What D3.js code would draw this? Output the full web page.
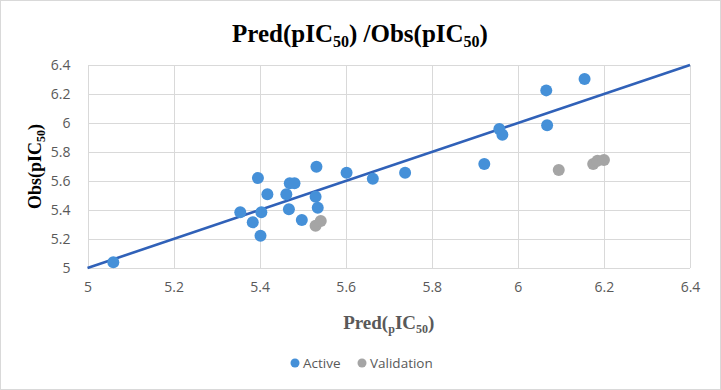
<!DOCTYPE html>
<html>
<head>
<meta charset="utf-8">
<script src="https://cdn.jsdelivr.net/npm/d3@7"></script>
<style>
  body { margin: 0; background: #fff; }
  svg { display: block; }
</style>
</head>
<body>
<svg id="chart" width="721" height="390"></svg>
<script>
// data
var activeX = [5.06, 5.355, 5.384, 5.396, 5.402, 5.404, 5.418, 5.462, 5.468, 5.470, 5.481, 5.498, 5.530, 5.532, 5.535, 5.602, 5.663, 5.738, 5.922, 5.957, 5.964, 6.066, 6.068, 6.155];
var activeY = [5.04, 5.385, 5.315, 5.62, 5.223, 5.384, 5.508, 5.508, 5.405, 5.584, 5.584, 5.331, 5.492, 5.699, 5.416, 5.657, 5.616, 5.657, 5.717, 5.959, 5.919, 6.225, 5.984, 6.303];
var validX = [5.530, 5.542, 6.095, 6.175, 6.185, 6.200];
var validY = [5.292, 5.324, 5.676, 5.717, 5.740, 5.745];
var lineX = [5, 6.4];
var lineY = [5, 6.4];
var xTicks = [5, 5.2, 5.4, 5.6, 5.8, 6, 6.2, 6.4];
var yTicks = [5, 5.2, 5.4, 5.6, 5.8, 6, 6.2, 6.4];

var W = 721, H = 390
  , margin = {top: 65, right: 31, bottom: 122, left: 87.5}
  , width = W - margin.left - margin.right
  , height = H - margin.top - margin.bottom;

var svg = d3.select('#chart');

svg.append('rect')
  .attr('x', 0.5).attr('y', 0.5)
  .attr('width', W - 1).attr('height', H - 1)
  .attr('fill', '#fff')
  .attr('stroke', '#d9d9d9');

var x = d3.scaleLinear().domain([5, 6.4]).range([0, width]);
var y = d3.scaleLinear().domain([5, 6.4]).range([height, 0]);

var g = svg.append('g').attr('transform', 'translate(' + margin.left + ',' + margin.top + ')');

var fmt = function (d) { return d3.format('~g')(+d.toFixed(1)); };

// grid via axes
g.append('g')
  .attr('class', 'y axis')
  .call(d3.axisLeft(y).tickValues(yTicks).tickSizeInner(-width).tickSizeOuter(0).tickPadding(17).tickFormat(fmt))
  .call(function (a) { a.select('.domain').remove(); });

g.append('g')
  .attr('class', 'x axis')
  .attr('transform', 'translate(0,' + height + ')')
  .call(d3.axisBottom(x).tickValues(xTicks).tickSizeInner(-height).tickSizeOuter(0).tickPadding(14).tickFormat(fmt))
  .call(function (a) { a.select('.domain').remove(); });

g.selectAll('.axis .tick line')
  .style('stroke', '#d9d9d9')
  .style('shape-rendering', 'crispEdges');
g.selectAll('.axis .tick text')
  .style('font', '14px "Open Sans", sans-serif')
  .style('fill', '#595959');

// y = x line
g.append('path')
  .datum(d3.zip(lineX, lineY))
  .attr('fill', 'none')
  .attr('stroke', '#3061b8')
  .attr('stroke-width', 2.6)
  .attr('d', d3.line().x(function (d) { return x(d[0]); }).y(function (d) { return y(d[1]); }));

g.append('g').selectAll('circle')
  .data(d3.zip(activeX, activeY))
  .join('circle')
  .attr('cx', function (d) { return x(d[0]); })
  .attr('cy', function (d) { return y(d[1]); })
  .attr('r', 6)
  .attr('fill', '#4590d8');

g.append('g').selectAll('circle')
  .data(d3.zip(validX, validY))
  .join('circle')
  .attr('cx', function (d) { return x(d[0]); })
  .attr('cy', function (d) { return y(d[1]); })
  .attr('r', 6)
  .attr('fill', '#a5a5a5');

// title
var title = svg.append('text')
  .attr('x', 360).attr('y', 42)
  .attr('text-anchor', 'middle')
  .style('font', 'bold 25px "Liberation Serif", "Times New Roman", serif')
  .style('fill', '#000');
title.append('tspan').text('Pred(pIC');
title.append('tspan').attr('dy', 5).style('font-size', '16px').text('50');
title.append('tspan').attr('dy', -5).text(') /Obs(pIC');
title.append('tspan').attr('dy', 5).style('font-size', '16px').text('50');
title.append('tspan').attr('dy', -5).text(')');

// x axis title
var xt = svg.append('text')
  .attr('x', margin.left + width / 2).attr('y', 329)
  .attr('text-anchor', 'middle')
  .style('font', 'bold 19px "Liberation Serif", "Times New Roman", serif')
  .style('fill', '#595959');
xt.append('tspan').text('Pred(');
xt.append('tspan').attr('dy', 4).style('font-size', '12px').text('p');
xt.append('tspan').attr('dy', -4).text('IC');
xt.append('tspan').attr('dy', 4).style('font-size', '12px').text('50');
xt.append('tspan').attr('dy', -4).text(')');

// y axis title
var yt = svg.append('text')
  .attr('transform', 'translate(41,' + (margin.top + height / 2) + ') rotate(-90)')
  .attr('text-anchor', 'middle')
  .style('font', 'bold 18px "Liberation Serif", "Times New Roman", serif')
  .style('fill', '#000');
yt.append('tspan').text('Obs(pIC');
yt.append('tspan').attr('dy', 4).style('font-size', '12px').text('50');
yt.append('tspan').attr('dy', -4).text(')');

// legend
var legend = [['Active', '#4590d8', 295], ['Validation', '#a5a5a5', 362]];
var lg = svg.append('g').selectAll('g').data(legend).join('g')
  .attr('transform', function (d) { return 'translate(' + d[2] + ',363)'; });
lg.append('circle').attr('r', 4.5).attr('fill', function (d) { return d[1]; });
lg.append('text')
  .attr('x', 8).attr('y', 5)
  .style('font', '13.5px "Open Sans", sans-serif')
  .style('fill', '#595959')
  .text(function (d) { return d[0]; });
</script>
</body>
</html>
